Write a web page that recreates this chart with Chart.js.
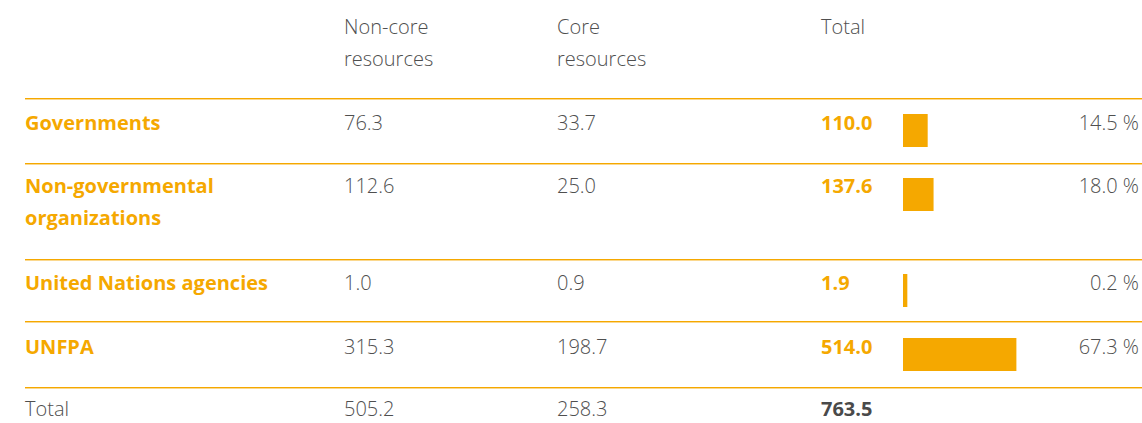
<!DOCTYPE html>
<html>
<head>
<meta charset="utf-8">
<script src="https://cdn.jsdelivr.net/npm/chart.js@4"></script>
<style>
  html, body { margin: 0; padding: 0; background: #fff; }
  body { width: 1142px; height: 423px; position: relative; overflow: hidden;
         font-family: "Open Sans", sans-serif; font-size: 20px; line-height: 32px;
         font-weight: 300; color: #4f4f4f; }
  .cell { position: absolute; white-space: nowrap; }
  .label { font-weight: 700; color: #f5a800; white-space: normal; width: 280px; }
  .total { font-weight: 700; color: #f5a800; }
  .grand { font-weight: 700; color: #4a4a4a; }
  .pct { text-align: right; width: 120px; }
  .rule { position: absolute; left: 25px; right: 0; height: 1px; background: #f5a800;
          box-shadow: 0 1px 0 #fbd88e; }
  canvas.bar { position: absolute; }
</style>
</head>
<body>
<div id="table"></div>
<script>
const sources = ['Governments', 'Non-governmental organizations', 'United Nations agencies', 'UNFPA'];
const nonCore = [76.3, 112.6, 1.0, 315.3];
const core = [33.7, 25.0, 0.9, 198.7];
const totals = [110.0, 137.6, 1.9, 514.0];
const shares = [14.5, 18.0, 0.2, 67.3];
const columnTotals = [505.2, 258.3, 763.5];
const headers = ['Non-core<br>resources', 'Core<br>resources', 'Total'];

// layout
const colX = [25, 344, 557, 821];
const barX = 903;
const pctRight = 1139;
const rowTops = [107, 170, 267, 331];
const barTops = [114, 178, 274, 338];
const rules = [98, 163, 259, 321, 387];

const table = document.getElementById('table');

function addCell(text, x, y, cls) {
    const div = document.createElement('div');
    div.className = 'cell' + (cls ? ' ' + cls : '');
    div.style.left = x + 'px';
    div.style.top = y + 'px';
    div.innerHTML = text;
    table.appendChild(div);
    return div;
}

headers.forEach((h, i) => addCell(h, colX[i + 1], 11));

rules.forEach(y => {
    const r = document.createElement('div');
    r.className = 'rule';
    r.style.top = y + 'px';
    table.appendChild(r);
});

sources.forEach((name, i) => {
    const y = rowTops[i];
    addCell(name, colX[0], y, 'label');
    addCell(nonCore[i].toFixed(1), colX[1], y);
    addCell(core[i].toFixed(1), colX[2], y);
    addCell(totals[i].toFixed(1), colX[3], y, 'total');
    addCell(shares[i].toFixed(1) + ' %', pctRight - 120, y, 'pct');

    // one small bar per row, all on the same 0-100 % scale
    const canvas = document.createElement('canvas');
    canvas.className = 'bar';
    canvas.width = 168;
    canvas.height = 33;
    canvas.style.left = barX + 'px';
    canvas.style.top = barTops[i] + 'px';
    table.appendChild(canvas);

    new Chart(canvas.getContext('2d'), {
        type: 'bar',
        data: {
            labels: [name],
            datasets: [{
                data: [shares[i]],
                backgroundColor: '#f5a800',
                barPercentage: 1,
                categoryPercentage: 1,
                minBarLength: 4
            }]
        },
        options: {
            indexAxis: 'y',
            responsive: false,
            animation: false,
            layout: { padding: 0 },
            plugins: { legend: { display: false }, tooltip: { enabled: false } },
            scales: {
                x: { display: false, min: 0, max: 100 },
                y: { display: false }
            }
        }
    });
});

addCell('Total', colX[0], 393);
addCell(columnTotals[0].toFixed(1), colX[1], 393);
addCell(columnTotals[1].toFixed(1), colX[2], 393);
addCell(columnTotals[2].toFixed(1), colX[3], 393, 'grand');
</script>
</body>
</html>
